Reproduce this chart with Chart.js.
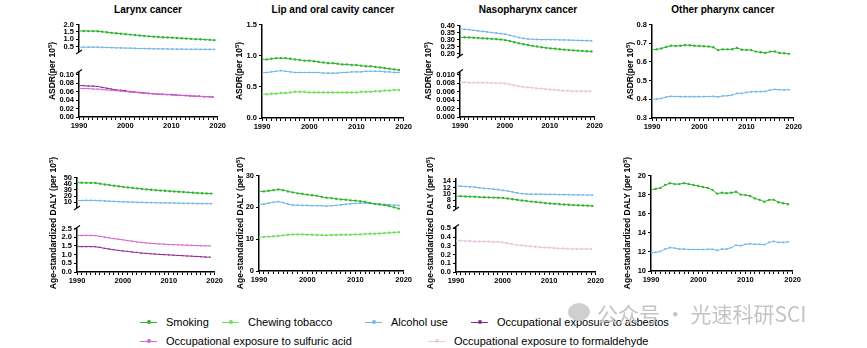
<!DOCTYPE html>
<html>
<head>
<meta charset="utf-8">
<script src="https://cdn.jsdelivr.net/npm/chart.js@4"></script>
<style>
  body { margin: 0; width: 867px; height: 348px; background: #fff; position: relative; overflow: hidden;
         font-family: "Liberation Sans", Arial, sans-serif; }
  canvas { position: absolute; }
  .ptitle { position: absolute; font-weight: bold; font-size: 10px; transform: translate(-50%, -50%); white-space: nowrap; }
  .ytitle { position: absolute; font-weight: bold; font-size: 8.5px; white-space: nowrap;
            transform: translate(-50%, -50%) rotate(-90deg); }
  .ytitle sup { font-size: 6px; }
  .leg { position: absolute; font-family: "Liberation Sans Narrow", "Liberation Sans", Arial, sans-serif;
         font-size: 11px; white-space: nowrap; transform: translateY(-50%); display: flex; align-items: center; }
  .mk { position: relative; display: inline-block; width: 17px; height: 1px; margin-right: 9px; }
  .mk i { position: absolute; left: 6.5px; top: -1.5px; width: 4px; height: 4px; border-radius: 50%; }
  .wm { position: absolute; left: 597px; top: 298px; font-family: "Noto Sans CJK SC", sans-serif; font-size: 21px;
        color: #c4c4c4; white-space: nowrap; }
  .wmicon { position: absolute; left: 568px; top: 303px; width: 22px; height: 18px; border-radius: 50%; background: #cfcfcf; }
</style>
</head>
<body>
<script>
const years = [1990, 1991, 1992, 1993, 1994, 1995, 1996, 1997, 1998, 1999,
               2000, 2001, 2002, 2003, 2004, 2005, 2006, 2007, 2008, 2009,
               2010, 2011, 2012, 2013, 2014, 2015, 2016, 2017, 2018, 2019];

// ---- Larynx cancer, ASDR ----
const larynxAsdrSmoking = [1.55,1.56,1.55,1.55,1.54,1.51,1.47,1.43,1.40,1.37,1.34,1.31,1.28,1.25,1.22,1.19,1.17,1.15,1.13,1.11,1.10,1.08,1.06,1.04,1.02,1.00,0.99,0.97,0.95,0.93];
const larynxAsdrAlcohol = [0.45,0.45,0.45,0.45,0.45,0.44,0.43,0.42,0.41,0.40,0.39,0.38,0.37,0.36,0.36,0.35,0.34,0.34,0.33,0.33,0.32,0.32,0.32,0.31,0.31,0.31,0.30,0.30,0.30,0.30];
const larynxAsdrAsbestos = [0.074,0.074,0.073,0.073,0.072,0.070,0.068,0.066,0.064,0.063,0.062,0.060,0.059,0.058,0.057,0.056,0.055,0.054,0.054,0.053,0.053,0.052,0.051,0.051,0.050,0.049,0.049,0.048,0.048,0.047];
const larynxAsdrSulfuric = [0.068,0.067,0.067,0.066,0.066,0.065,0.064,0.063,0.062,0.061,0.060,0.059,0.058,0.057,0.056,0.055,0.055,0.054,0.053,0.053,0.052,0.051,0.051,0.050,0.050,0.049,0.049,0.048,0.048,0.047];

// ---- Lip and oral cavity cancer, ASDR ----
const lipAsdrSmoking = [0.94,0.94,0.95,0.96,0.96,0.96,0.95,0.94,0.93,0.92,0.92,0.91,0.90,0.89,0.88,0.88,0.87,0.86,0.86,0.85,0.85,0.84,0.83,0.83,0.82,0.81,0.80,0.79,0.78,0.77];
const lipAsdrAlcohol = [0.73,0.73,0.74,0.75,0.76,0.75,0.74,0.73,0.73,0.73,0.73,0.73,0.73,0.72,0.72,0.72,0.72,0.73,0.73,0.74,0.74,0.74,0.75,0.75,0.75,0.75,0.74,0.74,0.73,0.73];
const lipAsdrChewing = [0.38,0.38,0.39,0.39,0.40,0.40,0.41,0.42,0.42,0.42,0.41,0.41,0.41,0.41,0.41,0.41,0.41,0.41,0.41,0.41,0.41,0.42,0.42,0.42,0.43,0.43,0.44,0.44,0.45,0.45];

// ---- Nasopharynx cancer, ASDR ----
const nasoAsdrAlcohol = [0.375,0.373,0.370,0.366,0.362,0.358,0.354,0.350,0.346,0.342,0.338,0.330,0.322,0.314,0.308,0.304,0.302,0.301,0.300,0.300,0.300,0.299,0.298,0.297,0.296,0.295,0.294,0.293,0.292,0.291];
const nasoAsdrSmoking = [0.315,0.316,0.315,0.313,0.311,0.309,0.307,0.305,0.303,0.300,0.296,0.289,0.281,0.273,0.267,0.261,0.255,0.250,0.245,0.241,0.237,0.234,0.231,0.228,0.225,0.223,0.221,0.219,0.217,0.215];
const nasoAsdrFormaldehyde = [0.0082,0.0082,0.0081,0.0081,0.0081,0.0081,0.0081,0.0080,0.0080,0.0080,0.0079,0.0077,0.0075,0.0073,0.0071,0.0070,0.0069,0.0068,0.0067,0.0066,0.0065,0.0064,0.0063,0.0062,0.0062,0.0061,0.0061,0.0061,0.0061,0.0061];

// ---- Other pharynx cancer, ASDR ----
const otherAsdrSmoking = [0.665,0.667,0.672,0.680,0.687,0.685,0.686,0.690,0.689,0.686,0.685,0.684,0.682,0.678,0.663,0.667,0.667,0.668,0.675,0.665,0.664,0.663,0.655,0.652,0.648,0.655,0.656,0.648,0.646,0.643];
const otherAsdrAlcohol = [0.400,0.401,0.405,0.412,0.416,0.415,0.414,0.414,0.414,0.414,0.414,0.414,0.415,0.416,0.413,0.418,0.419,0.423,0.432,0.432,0.437,0.440,0.441,0.441,0.442,0.449,0.453,0.451,0.450,0.451];

// ---- Larynx cancer, DALY ----
const larynxDalySmoking = [41.5,41.6,41.4,41.3,41.2,40.0,38.8,37.8,36.8,35.8,34.9,34.0,33.2,32.4,31.6,30.8,30.2,29.6,29.0,28.5,28.0,27.5,27.0,26.5,26.0,25.5,25.0,24.6,24.3,24.0];
const larynxDalyAlcohol = [12.8,12.9,13.0,13.0,12.9,12.6,12.2,11.8,11.4,11.1,10.8,10.5,10.3,10.0,9.8,9.6,9.4,9.3,9.1,9.0,8.9,8.7,8.6,8.4,8.3,8.1,8.0,7.9,7.8,7.7];
const larynxDalySulfuric = [2.10,2.10,2.11,2.10,2.09,2.05,2.00,1.96,1.92,1.88,1.85,1.81,1.77,1.73,1.70,1.67,1.65,1.63,1.61,1.60,1.58,1.57,1.56,1.55,1.54,1.53,1.52,1.51,1.50,1.50];
const larynxDalyAsbestos = [1.46,1.46,1.46,1.46,1.45,1.41,1.36,1.32,1.28,1.24,1.21,1.18,1.15,1.12,1.09,1.07,1.05,1.03,1.01,1.00,0.98,0.97,0.95,0.94,0.92,0.91,0.89,0.88,0.86,0.85];

// ---- Lip and oral cavity cancer, DALY ----
const lipDalySmoking = [25.0,25.0,25.2,25.4,25.6,25.4,25.0,24.7,24.4,24.2,24.0,23.8,23.6,23.3,23.0,22.9,22.7,22.5,22.4,22.2,22.1,21.9,21.7,21.4,21.1,20.9,20.7,20.4,20.0,19.6];
const lipDalyAlcohol = [21.0,21.0,21.3,21.6,21.8,21.5,21.0,20.7,20.7,20.6,20.6,20.5,20.5,20.5,20.4,20.5,20.6,20.8,21.0,21.1,21.2,21.3,21.3,21.2,21.1,21.0,20.9,20.8,20.7,20.6];
const lipDalyChewing = [10.6,10.7,10.8,10.9,11.0,11.2,11.4,11.5,11.5,11.5,11.4,11.4,11.3,11.3,11.2,11.3,11.3,11.4,11.4,11.4,11.5,11.5,11.6,11.7,11.7,11.8,11.9,12.0,12.1,12.2];

// ---- Nasopharynx cancer, DALY ----
const nasoDalyAlcohol = [12.5,12.4,12.3,12.2,12.1,11.9,11.7,11.6,11.5,11.3,11.1,10.9,10.6,10.3,10.1,9.95,9.9,9.9,9.9,9.85,9.85,9.85,9.8,9.8,9.75,9.7,9.7,9.65,9.65,9.6];
const nasoDalySmoking = [9.3,9.3,9.2,9.15,9.1,9.0,8.95,8.9,8.85,8.8,8.75,8.55,8.35,8.15,7.95,7.8,7.6,7.45,7.3,7.15,7.0,6.9,6.8,6.7,6.6,6.5,6.45,6.4,6.3,6.25];
const nasoDalyFormaldehyde = [0.36,0.36,0.355,0.355,0.35,0.35,0.35,0.35,0.345,0.345,0.34,0.33,0.32,0.31,0.305,0.30,0.295,0.29,0.285,0.28,0.28,0.275,0.27,0.27,0.265,0.265,0.265,0.265,0.265,0.265];

// ---- Other pharynx cancer, DALY ----
const otherDalySmoking = [18.5,18.6,18.7,19.0,19.2,19.1,19.1,19.2,19.1,19.0,18.9,18.8,18.7,18.5,18.1,18.2,18.15,18.2,18.3,18.0,17.95,17.85,17.6,17.45,17.25,17.45,17.45,17.2,17.1,17.0];
const otherDalyAlcohol = [11.9,11.95,12.05,12.3,12.45,12.4,12.3,12.3,12.25,12.25,12.25,12.25,12.28,12.28,12.15,12.3,12.3,12.45,12.7,12.65,12.8,12.85,12.8,12.8,12.75,13.0,13.1,13.0,13.0,13.05];

// tick values
const xTicks = [];
for (let y = 1990; y <= 2020; y++) xTicks.push(y);

const SERIES = {
  smoking:      { label: "Smoking", color: "#2fb52f", style: "circle", rot: 0 },
  chewing:      { label: "Chewing tobacco", color: "#6ee05a", style: "circle", rot: 0 },
  alcohol:      { label: "Alcohol use", color: "#72b6ea", style: "rect", rot: 0 },
  asbestos:     { label: "Occupational exposure to asbestos", color: "#8e2a96", style: "triangle", rot: 0 },
  sulfuric:     { label: "Occupational exposure to sulfuric acid", color: "#d564d2", style: "triangle", rot: 180 },
  formaldehyde: { label: "Occupational exposure to formaldehyde", color: "#ecc8e2", style: "circle", rot: 0 }
};

const YW = 34, PT = 6, PR = 8, XH = 14;
const tickFont = { family: "Liberation Sans", size: 7.5, weight: "bold" };

// small slash where an axis is broken
const breakMark = {
  id: "breakMark",
  afterDraw(chart, args, opts) {
    if (!opts.pos) return;
    const { ctx, chartArea } = chart;
    const x = chartArea.left, y = opts.pos === "top" ? chartArea.top - 1 : chartArea.bottom + 1;
    ctx.save();
    ctx.strokeStyle = "#000";
    ctx.lineWidth = 1.2;
    ctx.beginPath();
    ctx.moveTo(x - 3, y + 2);
    ctx.lineTo(x + 3, y - 2);
    ctx.stroke();
    ctx.restore();
  }
};

function panel(p) {
  const cv = document.createElement("canvas");
  const w = (p.right - p.left) + YW + PR;
  const h = (p.bottom - p.top) + PT + (p.showX ? XH : 1);
  cv.width = w; cv.height = h;
  cv.style.left = (p.left - YW) + "px";
  cv.style.top = (p.top - PT) + "px";
  document.body.appendChild(cv);

  const datasets = p.series.map(([key, vals]) => {
    const s = SERIES[key];
    return {
      label: s.label,
      data: vals.map((v, i) => ({ x: years[i], y: v })),
      borderColor: s.color,
      backgroundColor: s.color,
      borderWidth: 1,
      pointStyle: s.style,
      rotation: s.rot,
      pointRadius: 1.2,
      pointBorderWidth: 0,
      tension: 0
    };
  });

  new Chart(cv, {
    type: "line",
    data: { datasets },
    plugins: [breakMark],
    options: {
      responsive: false,
      animation: false,
      devicePixelRatio: 1,
      layout: { padding: { top: PT, right: PR, bottom: p.showX ? 0 : 1, left: 0 } },
      plugins: { legend: { display: false }, tooltip: { enabled: false }, breakMark: { pos: p.brk } },
      scales: {
        x: {
          type: "linear", min: 1990, max: 2020, display: p.showX,
          afterBuildTicks: s => { s.ticks = xTicks.map(v => ({ value: v })); },
          afterFit: s => { s.height = XH; },
          ticks: { autoSkip: false, maxRotation: 0, padding: 1, color: "#000", font: tickFont,
                   callback: v => (v % 10 === 0 ? String(v) : "") },
          grid: { drawOnChartArea: false, tickLength: 3, color: "#000", tickWidth: 1 },
          border: { color: "#000", width: 1.5 }
        },
        y: {
          min: p.min, max: p.max,
          afterBuildTicks: s => { s.ticks = p.ticks.map(v => ({ value: v })); },
          afterFit: s => { s.width = YW; },
          ticks: { autoSkip: false, padding: 2, color: "#000", font: tickFont, callback: v => Number(v).toFixed(p.dec) },
          grid: { drawOnChartArea: false, tickLength: 3, color: "#000", tickWidth: 1 },
          border: { color: "#000", width: 1.5 }
        }
      }
    }
  });
}

// ---- top row (ASDR) ----
panel({ left: 79, right: 219, top: 24, bottom: 65, min: 0.19, max: 2.0, ticks: [0.5, 1.0, 1.5, 2.0], dec: 1, showX: false, brk: "bottom",
        series: [["smoking", larynxAsdrSmoking], ["alcohol", larynxAsdrAlcohol]] });
panel({ left: 79, right: 219, top: 72, bottom: 117, min: 0, max: 0.105, ticks: [0, 0.02, 0.04, 0.06, 0.08, 0.10], dec: 2, showX: true, brk: "top",
        series: [["sulfuric", larynxAsdrSulfuric], ["asbestos", larynxAsdrAsbestos]] });
panel({ left: 262, right: 405, top: 24, bottom: 118, min: 0, max: 1.5, ticks: [0, 0.5, 1.0, 1.5], dec: 1, showX: true,
        series: [["smoking", lipAsdrSmoking], ["alcohol", lipAsdrAlcohol], ["chewing", lipAsdrChewing]] });
panel({ left: 460, right: 596, top: 25, bottom: 69, min: 0.19, max: 0.40, ticks: [0.20, 0.25, 0.30, 0.35, 0.40], dec: 2, showX: false, brk: "bottom",
        series: [["alcohol", nasoAsdrAlcohol], ["smoking", nasoAsdrSmoking]] });
panel({ left: 460, right: 596, top: 72, bottom: 117, min: 0, max: 0.0105, ticks: [0, 0.002, 0.004, 0.006, 0.008, 0.010], dec: 3, showX: true, brk: "top",
        series: [["formaldehyde", nasoAsdrFormaldehyde]] });
panel({ left: 652, right: 795, top: 24, bottom: 118, min: 0.3, max: 0.8, ticks: [0.3, 0.4, 0.5, 0.6, 0.7, 0.8], dec: 1, showX: true,
        series: [["smoking", otherAsdrSmoking], ["alcohol", otherAsdrAlcohol]] });

// ---- bottom row (DALY) ----
panel({ left: 77, right: 216, top: 177, bottom: 221, min: 2.4, max: 50, ticks: [10, 20, 30, 40, 50], dec: 0, showX: false, brk: "bottom",
        series: [["smoking", larynxDalySmoking], ["alcohol", larynxDalyAlcohol]] });
panel({ left: 77, right: 216, top: 228, bottom: 272, min: 0, max: 2.5, ticks: [0, 0.5, 1.0, 1.5, 2.0, 2.5], dec: 1, showX: true, brk: "top",
        series: [["sulfuric", larynxDalySulfuric], ["asbestos", larynxDalyAsbestos]] });
panel({ left: 259, right: 405, top: 175, bottom: 271, min: 0, max: 30, ticks: [0, 10, 20, 30], dec: 0, showX: true,
        series: [["smoking", lipDalySmoking], ["alcohol", lipDalyAlcohol], ["chewing", lipDalyChewing]] });
panel({ left: 456, right: 597, top: 178, bottom: 222, min: 5.6, max: 14.8, ticks: [6, 8, 10, 12, 14], dec: 0, showX: false, brk: "bottom",
        series: [["alcohol", nasoDalyAlcohol], ["smoking", nasoDalySmoking]] });
panel({ left: 456, right: 597, top: 227, bottom: 272, min: 0, max: 0.51, ticks: [0, 0.1, 0.2, 0.3, 0.4, 0.5], dec: 1, showX: true, brk: "top",
        series: [["formaldehyde", nasoDalyFormaldehyde]] });
panel({ left: 651, right: 794, top: 175, bottom: 271, min: 10, max: 20, ticks: [10, 12, 14, 16, 18, 20], dec: 0, showX: true,
        series: [["smoking", otherDalySmoking], ["alcohol", otherDalyAlcohol]] });

// ---- text ----
function addDiv(cls, html, x, y) {
  const d = document.createElement("div");
  d.className = cls;
  d.innerHTML = html;
  d.style.left = x + "px";
  d.style.top = y + "px";
  document.body.appendChild(d);
  return d;
}
const panelTitles = ["Larynx cancer", "Lip and oral cavity cancer", "Nasopharynx cancer", "Other pharynx cancer"];
const panelTitleX = [148, 333, 528, 723];
panelTitles.forEach((t, i) => addDiv("ptitle", t, panelTitleX[i], 9));

const asdrTitleX = [52, 239, 428, 630];
const dalyTitleX = [53, 240, 430, 627];
asdrTitleX.forEach(x => addDiv("ytitle", "ASDR(per 10<sup>5</sup>)", x, 71));
dalyTitleX.forEach(x => addDiv("ytitle", "Age-standardized DALY (per 10<sup>5</sup>)", x, 223));

// legend
const legendItems = [
  ["smoking", 140, 322], ["chewing", 222, 322], ["alcohol", 365, 322], ["asbestos", 471, 322],
  ["sulfuric", 140, 341], ["formaldehyde", 428, 341]
];
legendItems.forEach(([key, x, y]) => {
  const s = SERIES[key];
  addDiv("leg", `<span class="mk" style="background:${s.color}"><i style="background:${s.color}"></i></span>${s.label}`, x, y);
});

addDiv("wmicon", "", 568, 303);
addDiv("wm", "公众号 · 光速科研SCI", 597, 298);
</script>
</body>
</html>
